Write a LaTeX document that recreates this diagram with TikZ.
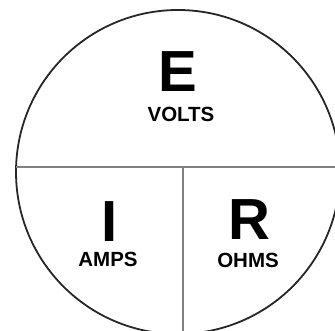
\documentclass[tikz,border=0pt]{standalone}
\usepackage{fontspec}
\setmainfont{Liberation Sans}
\begin{document}
\begin{tikzpicture}[x=1pt,y=-1pt,
  big/.style={font=\bfseries\fontsize{58}{58}\selectfont, inner sep=0pt, anchor=base},
  small/.style={font=\bfseries\fontsize{20.5}{20.5}\selectfont, inner sep=0pt, anchor=base},
  divider/.style={draw=black!50, line width=1.6pt}]
\useasboundingbox (0,0) rectangle (335,331);
\clip (0,0) rectangle (335,331);
\coordinate (c) at (178,172);
\draw[line width=1.8pt, black!85] (c) circle[radius=162];
\coordinate (hl) at (16,167);
\coordinate (hr) at (340,167);
\coordinate (vt) at (183,167);
\coordinate (vb) at (183,340);
\draw[divider] (hl) -- (hr);
\draw[divider] (vt) -- (vb);
\node[big] (E) at (178,92) {E};
\node[small] (volts) at (181,122) {VOLTS};
\node[big] (I) at (110,242) {I};
\node[small] (amps) at (108,267) {AMPS};
\node[big] (R) at (249,240) {R};
\node[small] (ohms) at (248,267.5) {OHMS};
\end{tikzpicture}
\end{document}
